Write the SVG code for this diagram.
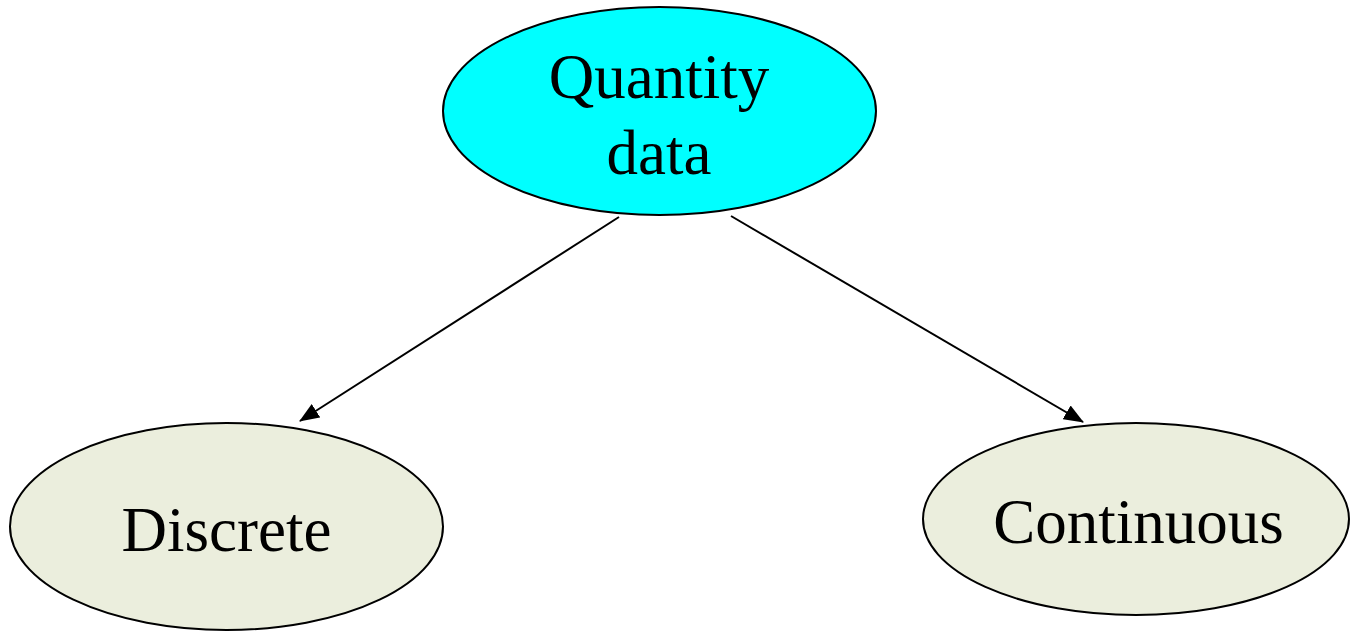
<svg xmlns="http://www.w3.org/2000/svg" width="1350" height="632" viewBox="0 0 1350 632">
  <style>
    .node { stroke: #000; stroke-width: 2; }
    .root { fill: #00FFFF; }
    .leaf { fill: #EBEEDD; }
    .label { font-family: "Liberation Serif", "Times New Roman", serif; font-size: 63px; fill: #000; text-anchor: middle; }
    .edge { stroke: #000; stroke-width: 2; fill: none; marker-end: url(#arrow); }
  </style>
  <defs>
    <marker id="arrow" viewBox="0 0 20 16" refX="19" refY="8" markerWidth="20" markerHeight="16" markerUnits="userSpaceOnUse" orient="auto">
      <path d="M0,0 L20,8 L0,16 Z" fill="#000"/>
    </marker>
  </defs>

  <g id="connectors">
    <line class="edge" x1="619" y1="217" x2="300" y2="421"/>
    <line class="edge" x1="731" y1="216" x2="1083" y2="422"/>
  </g>

  <g id="quantity-data">
    <ellipse class="node root" cx="659.5" cy="111" rx="216.5" ry="104"/>
    <text class="label" x="659" y="98">Quantity</text>
    <text class="label" x="659" y="174">data</text>
  </g>

  <g id="discrete">
    <ellipse class="node leaf" cx="226.5" cy="526.5" rx="216.5" ry="103.5"/>
    <text class="label" x="226.5" y="551">Discrete</text>
  </g>

  <g id="continuous">
    <ellipse class="node leaf" cx="1136" cy="519" rx="213" ry="96"/>
    <text class="label" x="1138.5" y="543">Continuous</text>
  </g>
</svg>
